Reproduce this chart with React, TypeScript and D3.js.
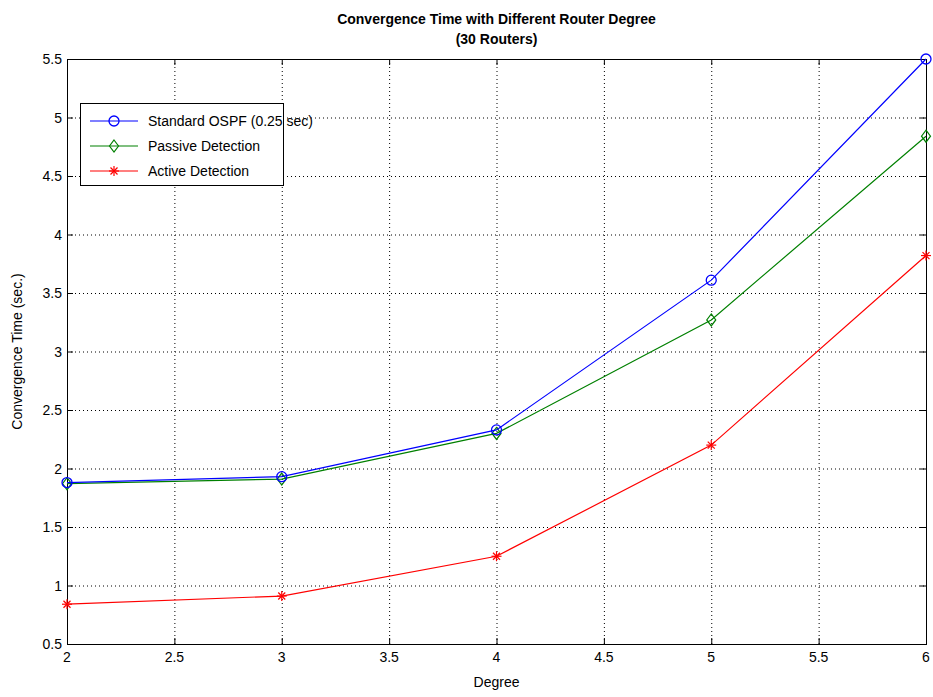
import React, { useEffect, useRef } from 'react';
import * as d3 from 'd3';

const degrees = [2, 3, 4, 5, 6];
const standardOspf = [1.88, 1.93, 2.33, 3.61, 5.5];
const passiveDetection = [1.87, 1.91, 2.3, 3.27, 4.84];
const activeDetection = [0.84, 0.91, 1.25, 2.2, 3.82];
const xTicks = [2, 2.5, 3, 3.5, 4, 4.5, 5, 5.5, 6];
const yTicks = [0.5, 1, 1.5, 2, 2.5, 3, 3.5, 4, 4.5, 5, 5.5];
const seriesNames = ['Standard OSPF (0.25 sec)', 'Passive Detection', 'Active Detection'];
const seriesColors = ['#0000ff', '#008000', '#ff0000'];
const seriesMarkers = ['circle', 'diamond', 'star'];

const W = 933;
const H = 697;
const margin = { left: 67, right: 7, top: 59, bottom: 53 };
const font = 'Arial, "Liberation Sans", Helvetica, sans-serif';

export default function App() {
  const ref = useRef<SVGSVGElement>(null);

  useEffect(() => {
    const svg = d3.select(ref.current);
    svg.selectAll('*').remove();

    const x0 = margin.left;
    const x1 = W - margin.right;
    const y0 = H - margin.bottom;
    const y1 = margin.top;

    const x = d3.scaleLinear().domain([2, 6]).range([x0, x1]);
    const y = d3.scaleLinear().domain([0.5, 5.5]).range([y0, y1]);

    svg.append('rect').attr('width', W).attr('height', H).attr('fill', '#fff');

    // grid
    const grid = svg.append('g').attr('stroke', '#000').attr('stroke-width', 1).attr('stroke-dasharray', '1,3');
    xTicks.slice(1, -1).forEach(t => {
      grid.append('line').attr('x1', x(t) + 0.5).attr('x2', x(t) + 0.5).attr('y1', y1).attr('y2', y0);
    });
    yTicks.slice(1, -1).forEach(t => {
      grid.append('line').attr('y1', y(t) + 0.5).attr('y2', y(t) + 0.5).attr('x1', x0).attr('x2', x1);
    });

    // frame and ticks
    const axis = svg.append('g').attr('stroke', '#000').attr('stroke-width', 1);
    axis.append('rect').attr('x', x0 + 0.5).attr('y', y1 + 0.5).attr('width', x1 - x0).attr('height', y0 - y1).attr('fill', 'none');
    xTicks.forEach(t => {
      axis.append('line').attr('x1', x(t) + 0.5).attr('x2', x(t) + 0.5).attr('y1', y0).attr('y2', y0 - 6);
      axis.append('line').attr('x1', x(t) + 0.5).attr('x2', x(t) + 0.5).attr('y1', y1).attr('y2', y1 + 6);
    });
    yTicks.forEach(t => {
      axis.append('line').attr('y1', y(t) + 0.5).attr('y2', y(t) + 0.5).attr('x1', x0).attr('x2', x0 + 6);
      axis.append('line').attr('y1', y(t) + 0.5).attr('y2', y(t) + 0.5).attr('x1', x1).attr('x2', x1 - 6);
    });

    const labels = svg.append('g').attr('font-family', font).attr('font-size', 14).attr('fill', '#000');
    xTicks.forEach(t => {
      labels.append('text').attr('x', x(t)).attr('y', y0 + 18).attr('text-anchor', 'middle').text(String(t));
    });
    yTicks.forEach(t => {
      labels.append('text').attr('x', x0 - 5).attr('y', y(t) + 5).attr('text-anchor', 'end').text(String(t));
    });

    labels.append('text').attr('x', (x0 + x1) / 2).attr('y', 687).attr('text-anchor', 'middle').text('Degree');
    labels.append('text')
      .attr('transform', `translate(22, ${(y0 + y1) / 2}) rotate(-90)`)
      .attr('text-anchor', 'middle')
      .text('Convergence Time (sec.)');

    const title = svg.append('g')
      .attr('font-family', '"Liberation Sans Narrow", "Arial Narrow", Arial, sans-serif')
      .attr('font-weight', 'bold')
      .attr('font-size', 14)
      .attr('text-anchor', 'middle');
    title.append('text').attr('x', (x0 + x1) / 2).attr('y', 24).text('Convergence Time with Different Router Degree');
    title.append('text').attr('x', (x0 + x1) / 2).attr('y', 44).text('(30 Routers)');

    const drawMarker = (g: any, kind: string, cx: number, cy: number, color: string) => {
      if (kind === 'circle') {
        g.append('circle').attr('cx', cx).attr('cy', cy).attr('r', 5).attr('fill', 'none').attr('stroke', color).attr('stroke-width', 1.3);
      } else if (kind === 'diamond') {
        g.append('path')
          .attr('d', `M${cx},${cy - 6}L${cx + 4.5},${cy}L${cx},${cy + 6}L${cx - 4.5},${cy}Z`)
          .attr('fill', 'none').attr('stroke', color).attr('stroke-width', 1.2);
      } else {
        const r = 5;
        const p = [
          [0, -r, 0, r], [-r, 0, r, 0],
          [-r * 0.7, -r * 0.7, r * 0.7, r * 0.7], [-r * 0.7, r * 0.7, r * 0.7, -r * 0.7],
        ];
        p.forEach(([a, b, c, d]) => {
          g.append('line').attr('x1', cx + a).attr('y1', cy + b).attr('x2', cx + c).attr('y2', cy + d)
            .attr('stroke', color).attr('stroke-width', 1.2);
        });
      }
    };

    const allSeries = [standardOspf, passiveDetection, activeDetection];
    const line = d3.line<number>().x((_, i) => x(degrees[i])).y(d => y(d));
    // draw in reverse so blue sits on top
    [2, 1, 0].forEach(s => {
      const g = svg.append('g');
      g.append('path').attr('d', line(allSeries[s])).attr('fill', 'none').attr('stroke', seriesColors[s]).attr('stroke-width', 1.2);
      allSeries[s].forEach((v, i) => drawMarker(g, seriesMarkers[s], x(degrees[i]), y(v), seriesColors[s]));
    });

    // legend
    const lg = svg.append('g');
    lg.append('rect').attr('x', 80.5).attr('y', 103.5).attr('width', 203).attr('height', 82)
      .attr('fill', '#fff').attr('stroke', '#000').attr('stroke-width', 1);
    seriesNames.forEach((name, i) => {
      const cy = 121 + i * 25;
      lg.append('line').attr('x1', 90).attr('x2', 138).attr('y1', cy).attr('y2', cy)
        .attr('stroke', seriesColors[i]).attr('stroke-width', 1.2);
      drawMarker(lg, seriesMarkers[i], 114, cy, seriesColors[i]);
      lg.append('text').attr('x', 148).attr('y', cy + 5).attr('font-family', font).attr('font-size', 14).text(name);
    });
  }, []);

  return <svg ref={ref} width={W} height={H} style={{ display: 'block', position: 'absolute', left: 0, top: 0 }} />;
}
